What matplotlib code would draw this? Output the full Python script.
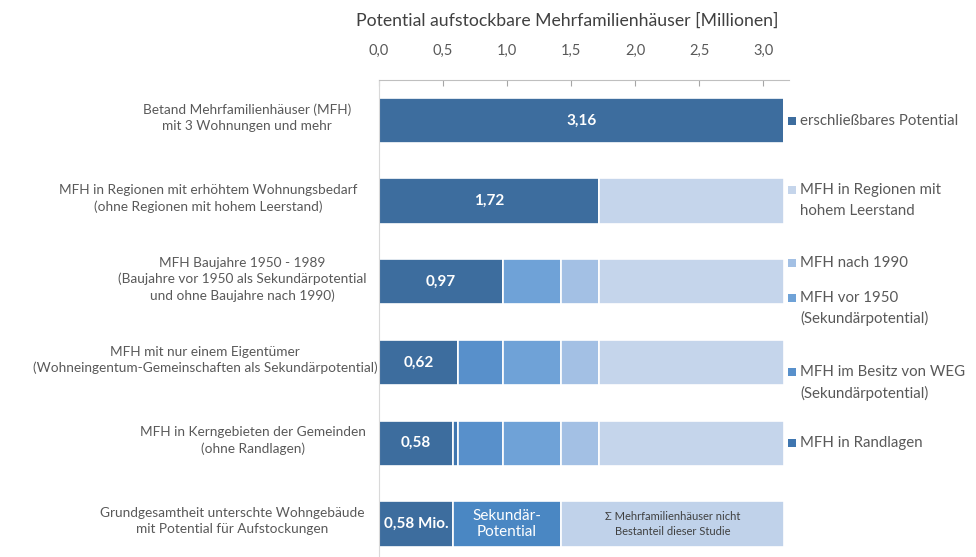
import numpy as np
import matplotlib
matplotlib.use("Agg")
import matplotlib.pyplot as plt
import matplotlib.transforms as mtransforms

plt.rcParams['font.family'] = ['Lato', 'DejaVu Sans']

# Daten (Millionen MFH)
row_labels = [
    "Betand Mehrfamilienhäuser (MFH)\nmit 3 Wohnungen und mehr",
    "MFH in Regionen mit erhöhtem Wohnungsbedarf\n(ohne Regionen mit hohem Leerstand)",
    "MFH Baujahre 1950 - 1989\n(Baujahre vor 1950 als Sekundärpotential\nund ohne Baujahre nach 1990)",
    "MFH mit nur einem Eigentümer\n(Wohneingentum-Gemeinschaften als Sekundärpotential)",
    "MFH in Kerngebieten der Gemeinden\n(ohne Randlagen)",
    "Grundgesamtheit unterschte Wohngebäude\nmit Potential für Aufstockungen",
]
label_cx = [247, 208, 242, 205, 253, 232]  # Mitte der Beschriftung in Pixeln

potential = [3.16, 1.72, 0.97, 0.62, 0.58]
value_text = ["3,16", "1,72", "0,97", "0,62", "0,58"]
randlagen = [0, 0, 0, 0, 0.04]
weg = [0, 0, 0, 0.35, 0.35]
vor1950 = [0, 0, 0.45, 0.45, 0.45]
nach1990 = [0, 0, 0.30, 0.30, 0.30]
leerstand = [0, 1.44, 1.44, 1.44, 1.44]

grund_values = [0.58, 0.84, 1.74]
grund_text = ["0,58 Mio.", "Sekundär-\nPotential",
              "Σ Mehrfamilienhäuser nicht\nBestanteil dieser Studie"]

series = [
    ("erschließbares Potential", potential, "#3d6d9e"),
    ("MFH in Randlagen", randlagen, "#3f76b0"),
    ("MFH im Besitz von WEG\n(Sekundärpotential)", weg, "#5890cb"),
    ("MFH vor 1950\n(Sekundärpotential)", vor1950, "#6fa2d7"),
    ("MFH nach 1990", nach1990, "#a3c0e4"),
    ("MFH in Regionen mit\nhohem Leerstand", leerstand, "#c5d5eb"),
]
grund_colors = ["#3d6d9e", "#4a87c3", "#c0d2ea"]

# Reihenfolge der Legende (von oben) und Lage neben den Zeilen
legend_order = [0, 5, 4, 3, 2, 1]
leg_y = [0.01, 0.86, 1.77, 2.2, 3.12, 4.0]

W, H = 976, 557
fig = plt.figure(figsize=(W / 100, H / 100), dpi=100)
ax = fig.add_axes([379 / W, 0.0, 410 / W, 477 / H])

n = len(potential)
y = np.arange(n)
bar_h = 0.56
left = np.zeros(n)
for name, vals, col in series:
    vals = np.array(vals, dtype=float)
    ax.barh(y, vals, left=left, height=bar_h, color=col,
            edgecolor="white", linewidth=1.2)
    left = left + vals

for i, v in enumerate(potential):
    ax.text(v / 2, i, value_text[i], ha="center", va="center",
            color="white", fontsize=11, fontweight="bold")

# letzte Zeile: Grundgesamtheit
gl = 0.0
for j, v in enumerate(grund_values):
    ax.barh(n, v, left=gl, height=bar_h, color=grund_colors[j],
            edgecolor="white", linewidth=1.2)
    if j == 0:
        ax.text(gl + v / 2, n, grund_text[j], ha="center", va="center",
                color="white", fontsize=11, fontweight="bold")
    elif j == 1:
        ax.text(gl + v / 2, n, grund_text[j], ha="center", va="center",
                color="white", fontsize=11, linespacing=1.25)
    else:
        ax.text(gl + v / 2, n, grund_text[j], ha="center", va="center",
                color="#404040", fontsize=8, linespacing=1.4)
    gl += v

ax.set_xlim(0, 3.2)
ax.set_ylim(5.41, -0.5)
ax.xaxis.tick_top()
ax.set_xticks([0, 0.5, 1.0, 1.5, 2.0, 2.5, 3.0])
ax.set_xticklabels(["0,0", "0,5", "1,0", "1,5", "2,0", "2,5", "3,0"])
ax.tick_params(axis="x", direction="in", length=4, color="#a6a6a6",
               labelsize=10.5, labelcolor="#595959", pad=16)
ax.set_yticks([])
fig.text(567 / W, 1 - 21 / H, "Potential aufstockbare Mehrfamilienhäuser [Millionen]",
         ha="center", va="center", fontsize=12.7, color="#404040")
for s in ["right", "bottom"]:
    ax.spines[s].set_visible(False)
ax.spines["top"].set_color("#bfbfbf")
ax.spines["left"].set_color("#d9d9d9")

# Beschriftungen links
trans_lab = mtransforms.blended_transform_factory(fig.transFigure, ax.transData)
for i, lab in enumerate(row_labels):
    ax.text(label_cx[i] / W, i - 0.03, lab, transform=trans_lab, ha="center",
            va="center", fontsize=9.8, color="#595959", linespacing=1.4,
            multialignment="center")

# Legende rechts
for idx, ly in zip(legend_order, leg_y):
    name, vals, col = series[idx]
    lines = name.split("\n")
    ax.scatter([792 / W], [ly], marker="s", s=28, color=col,
               transform=trans_lab, clip_on=False, linewidths=0)
    for k, ln in enumerate(lines):
        ax.text(800 / W, ly + k * 0.26, ln, transform=trans_lab, ha="left",
                va="center", fontsize=10.8, color="#595959")

fig.savefig("out.png", dpi=100)
